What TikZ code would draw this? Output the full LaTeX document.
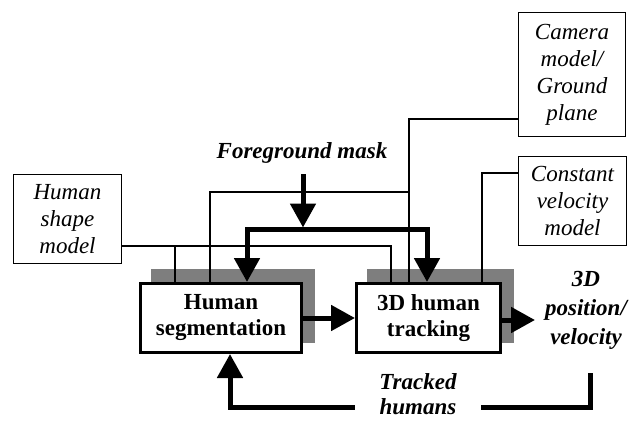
\documentclass[tikz,border=0pt]{standalone}
\usepackage{fontspec}
\setmainfont{Liberation Serif}
\usetikzlibrary{arrows.meta,calc,backgrounds}
\definecolor{shadowgray}{RGB}{126,126,126}
\begin{document}
\begin{tikzpicture}[x=1pt,y=1pt,
  modelbox/.style={draw, line width=1pt, align=center, inner sep=0pt,
    font=\itshape\fontsize{23}{27}\selectfont},
  procbox/.style={draw, line width=3pt, fill=white, align=center, inner sep=0pt,
    font=\bfseries\fontsize{23}{26}\selectfont},
  shadowbox/.style={fill=shadowgray},
  feed/.style={line width=1.1pt},
  flow/.style={line width=5pt, -{Triangle[width=25pt,length=24pt]}},
  flowboth/.style={line width=5pt, {Triangle[width=25pt,length=24pt]}-{Triangle[width=25pt,length=24pt]}},
  lbl/.style={align=center, font=\bfseries\itshape\fontsize{23}{27}\selectfont}]
\useasboundingbox (0,0) rectangle (632,-421);

% model boxes
\node[modelbox, minimum width=108pt, minimum height=89pt] (hsm) at (67.5,-219)
  {Human\\shape\\model};
\node[modelbox, minimum width=107pt, minimum height=124pt] (cam) at (572,-74.5)
  {Camera\\model/\\Ground\\plane};
\node[modelbox, minimum width=108pt, minimum height=89pt] (cvm) at (572.5,-201)
  {Constant\\velocity\\model};

% processing boxes
\node[procbox, minimum width=161pt, minimum height=69pt] (seg) at (221,-318)
  {Human\\segmentation};
\node[procbox, minimum width=144pt, minimum height=69pt] (trk) at (428.5,-318)
  {3D human\\tracking};

% labels
\node[lbl] (fg) at (302,-153) {Foreground mask};
\node[lbl, font=\bfseries\itshape\fontsize{23}{29}\selectfont] (out) at (586,-310)
  {3D\\position/\\velocity};

\coordinate (fgtop) at (303,-174);
\coordinate (fgj) at (303,-229);
\coordinate (bar) at (247,-229);
\coordinate (outtip) at (535,-320);
\coordinate (fb) at (590,-373);
\coordinate (fbc) at (230,-407);

\begin{scope}[on background layer]
  % drop shadows
  \fill[shadowgray] ([shift={(12,11)}]seg.south west) rectangle ([shift={(12,13)}]seg.north east);
  \fill[shadowgray] ([shift={(12,11)}]trk.south west) rectangle ([shift={(12,13)}]trk.north east);
  % model inputs
  \draw[feed] ([yshift=-27pt]hsm.east) -| ([xshift=-37.5pt]trk.north);
  \draw[feed] ([xshift=-46pt]seg.north) -- ([xshift=-46pt]seg.north |- 0,-246);
  \draw[feed] ([yshift=18pt]cam.south west) -| ([xshift=-19.5pt]trk.north);
  \draw[feed] ([xshift=-11pt]seg.north) |- (409,-192);
  \draw[feed] ([yshift=-17pt]cvm.north west) -| ([xshift=53.5pt]trk.north);
\end{scope}

% foreground mask distribution
\draw[flow, shorten >=-1pt] (fgtop) -- ([yshift=2.5pt]fgj);
\draw[flowboth] (seg.north -| bar) |- (fgj) -| ([xshift=-1.5pt]trk.north);

% main flow
\draw[flow] (seg.east) -- (trk.west);
\draw[flow] ([yshift=-2pt]trk.east) -- ([yshift=-2pt]trk.east -| outtip);

% feedback of tracked humans
\draw[flow] (fb) |- (fbc) -- (seg.south -| fbc);
\node[lbl, fill=white, inner xsep=24pt, inner ysep=0pt,
  font=\bfseries\itshape\fontsize{23}{25}\selectfont] (th) at (418,-394) {Tracked\\humans};
\end{tikzpicture}
\end{document}
